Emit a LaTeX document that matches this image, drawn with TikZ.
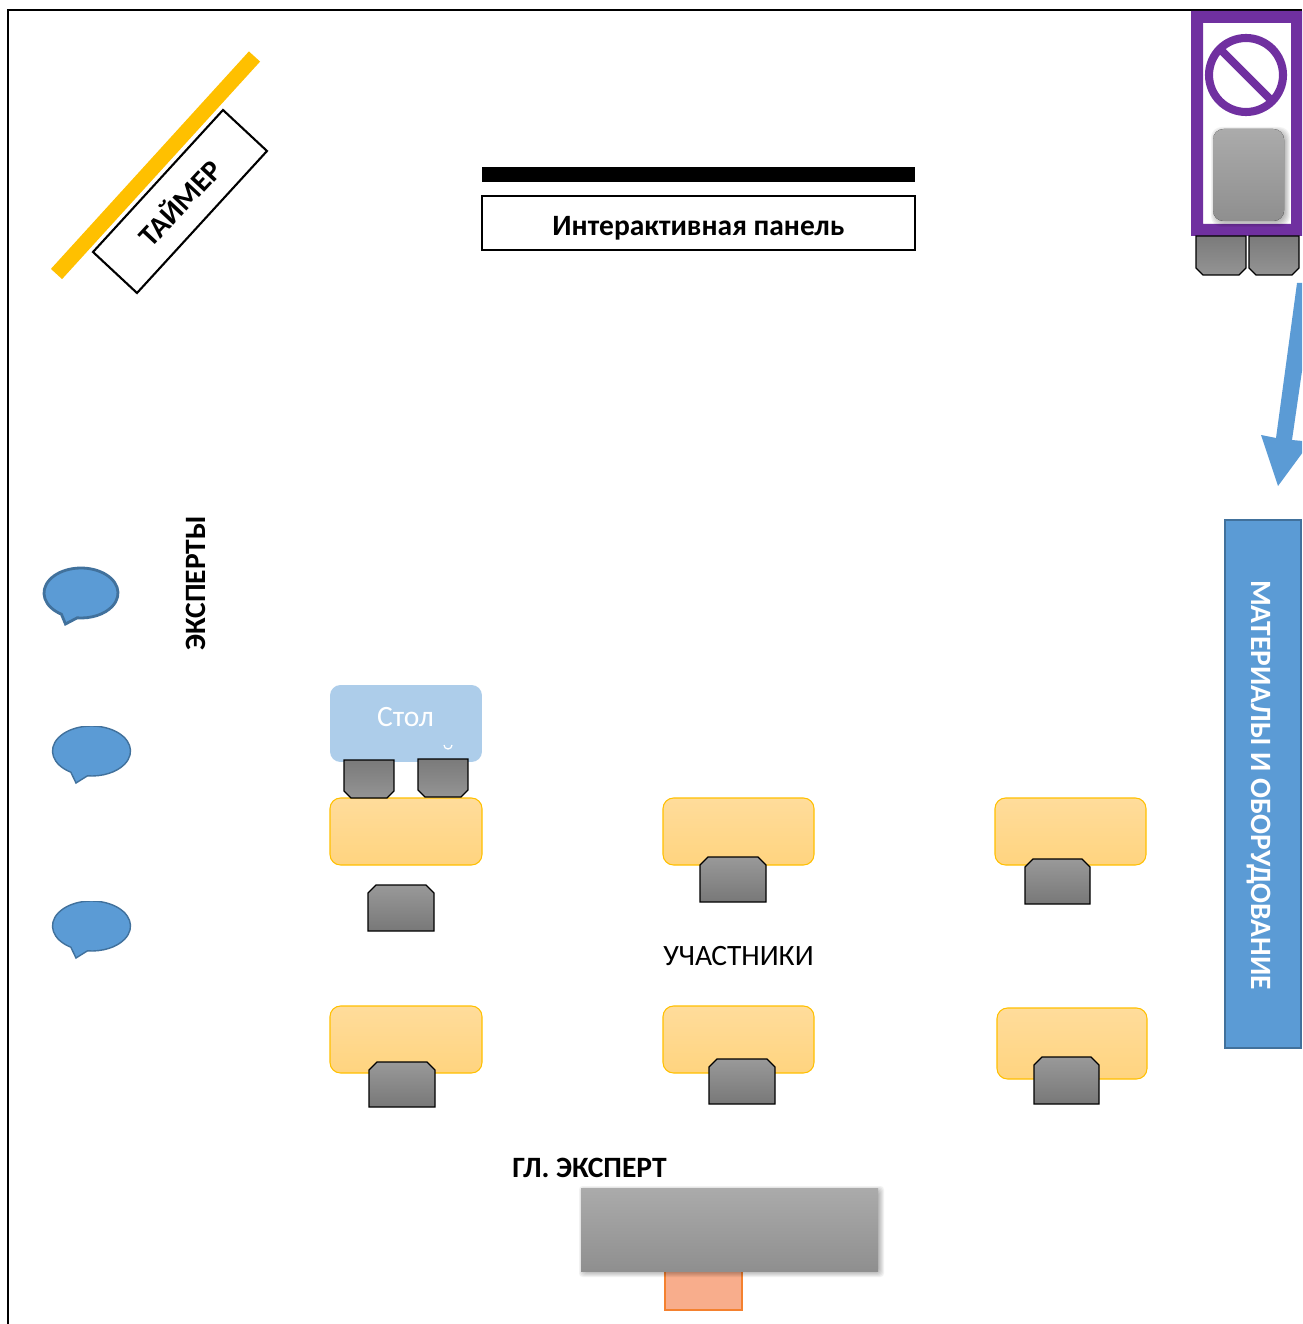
\documentclass[tikz,border=0pt]{standalone}
\usepackage{fontspec}
\setmainfont{Carlito}
\definecolor{purp}{HTML}{7030A0}
\definecolor{blu}{HTML}{5B9BD5}
\definecolor{bluedge}{HTML}{41719C}
\definecolor{gold}{HTML}{FFC000}
\definecolor{tabletop}{HTML}{FFDC9B}
\definecolor{tablebot}{HTML}{FFD47F}
\definecolor{peach}{HTML}{F8AD8C}
\definecolor{peachedge}{HTML}{F4812F}
\tikzset{
  px/.style={x=0.02cm,y=-0.02cm},
  tablebox/.style={draw=gold,line width=0.6pt,rounded corners=6pt,top color=tabletop,bottom color=tablebot},
  chairdark/.style={draw=black,line width=0.7pt,top color=black!52,bottom color=black!42},
  chairlight/.style={draw=black,line width=0.7pt,top color=black!40,bottom color=black!53},
  greybox/.style={top color=black!33,bottom color=black!44},
  bubble/.style={fill=blu,draw=bluedge,line width=1.6pt},
  txt/.style={font=\fontsize{16.8pt}{19pt}\selectfont,inner sep=0pt},
  btxt/.style={font=\fontsize{16.8pt}{19pt}\selectfont\bfseries,inner sep=0pt},
}
\newcommand{\legsdown}[4]{\draw[chairdark] (#1,#2) -- (#3,#2) -- (#3,#4-7) -- (#3-7,#4) -- (#1+7,#4) -- (#1,#4-7) -- cycle;}
\newcommand{\legsup}[4]{\draw[chairlight] (#1,#4) -- (#3,#4) -- (#3,#2+8) -- (#3-8,#2) -- (#1+8,#2) -- (#1,#2+8) -- cycle;}
\newcommand{\softrect}[5]{\foreach \d in {0,1,...,5}{\fill[black,opacity=0.05,rounded corners=#5] (#1+3-\d,#2+3-\d) rectangle (#3+1+\d,#4+1+\d);}}
\begin{document}
\begin{tikzpicture}[px]
\useasboundingbox (0,0) rectangle (1302,1324);
\fill[white] (0,0) rectangle (1302,1324);
\begin{scope}
\clip (0,0) rectangle (1302,1324);
% frame
\coordinate (fa) at (8,1324);
\coordinate (fb) at (8,10);
\coordinate (fc) at (1302,10);
\draw[black,line width=1.5pt] (fa) -- (fb) -- (fc);

% timer
\coordinate (ta) at (56.5,274);
\coordinate (tb) at (254.5,56.5);
\draw[gold,line width=8.6pt] (ta) -- (tb);
\draw[black,line width=1.2pt,fill=white] (223,110) -- (267,151) -- (137,293) -- (93,252) -- cycle;
\node[btxt,rotate=47] (timer) at (179,202) {ТАЙМЕР};

% panel
\fill[black] (482,167) rectangle (915,182);
\node[draw=black,line width=1.2pt,minimum width=8.66cm,minimum height=1.08cm,inner sep=0pt,fill=white] (panel) at (698.5,223) {};
\node[btxt] (paneltxt) at (698.5,228.5) {Интерактивная панель};

% purple cabinet
\fill[purp,even odd rule] (1191,11) rectangle (1302,236) (1203,23) rectangle (1291,224);
\draw[purp,line width=4.6pt] (1246,75) circle[radius=37];
\coordinate (na) at (1219,48);
\coordinate (nb) at (1273,102);
\draw[purp,line width=4.6pt] (na) -- (nb);
\softrect{1213}{129}{1284}{221}{6pt}
\fill[rounded corners=6pt,greybox] (1213,129) rectangle (1284,221);
\legsdown{1196}{236}{1246}{275}
\legsdown{1249}{236}{1299}{275}

% arrow
\fill[blu] (1297,283) -- (1303,283) -- (1303,364) -- (1292,440) -- (1303,441) -- (1303,452) -- (1278,486) -- (1261,435) -- (1276,438) -- cycle;

% materials
\node[draw=bluedge,fill=blu,line width=1.2pt,minimum width=1.52cm,minimum height=10.56cm,inner sep=0pt] (mat) at (1263,784) {};
\node[btxt,text=white,rotate=-90] (mattxt) at (1259,785) {МАТЕРИАЛЫ И ОБОРУДОВАНИЕ};

% experts
\node[btxt,rotate=90] (exp) at (196,583) {ЭКСПЕРТЫ};
\draw[bubble] ([shift={(122:37 and 25)}]81,593) arc[start angle=122,end angle=456,x radius=37,y radius=25] -- (65.5,624) -- cycle;
\begin{scope}
\clip (40,726) rectangle (140,800);
\draw[bubble,line width=0.8pt] ([shift={(122:39 and 25)}]91.5,751) arc[start angle=122,end angle=456,x radius=39,y radius=25] -- (76,783) -- cycle;
\end{scope}
\begin{scope}
\clip (40,901) rectangle (140,975);
\draw[bubble,line width=0.8pt] ([shift={(122:39 and 25)}]91.5,926) arc[start angle=122,end angle=456,x radius=39,y radius=25] -- (76,958) -- cycle;
\end{scope}

% tables
\draw[tablebox] (330,798) rectangle (482,865);
\draw[tablebox] (663,798) rectangle (814,865);
\draw[tablebox] (995,798) rectangle (1146,865);
\draw[tablebox] (330,1006) rectangle (482,1073);
\draw[tablebox] (663,1006) rectangle (814,1073);
\draw[tablebox] (997,1008) rectangle (1147,1079);

% blue table
\node[fill=blu!50!white,rounded corners=6pt,minimum width=3.04cm,minimum height=1.54cm,inner sep=0pt] (stol) at (406,723.5) {};
\node[txt,text=white] (stoltxt) at (405.5,717) {Стол};
\draw[white,line width=0.7pt] (444,745) arc[start angle=180,end angle=0,radius=4];
\legsdown{344}{760}{394}{798}
\legsdown{418}{759}{468}{797}

\legsup{368}{885}{434}{931}
\legsup{700}{857}{766}{902}
\legsup{1025}{859}{1090}{904}
\legsup{369}{1062}{435}{1107}
\legsup{709}{1059}{775}{1104}
\legsup{1034}{1057}{1099}{1104}

\node[txt] (part) at (738.5,956) {УЧАСТНИКИ};
\node[btxt] (chief) at (589.5,1168) {ГЛ. ЭКСПЕРТ};

% chief desk
\draw[draw=peachedge,line width=0.7pt,fill=peach] (665,1271) rectangle (742,1310);
\softrect{581}{1188}{878}{1271}{2pt}
\fill[greybox] (581,1188) rectangle (878,1271);
\end{scope}
\end{tikzpicture}
\end{document}
